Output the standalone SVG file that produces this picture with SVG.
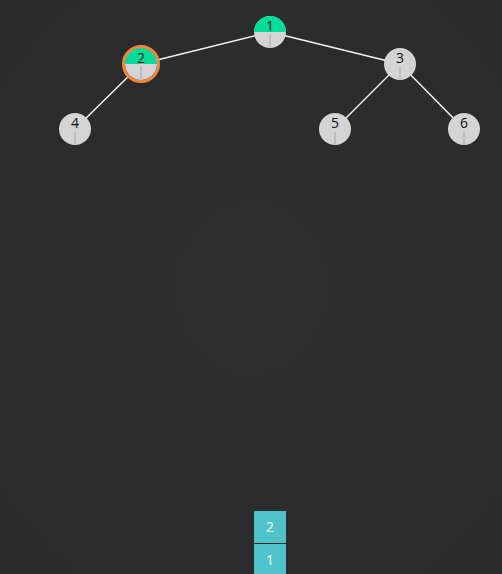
<svg xmlns="http://www.w3.org/2000/svg" width="502" height="574" viewBox="0 0 502 574">
<defs>
<radialGradient id="bg" cx="50%" cy="50%" r="70%"><stop offset="0" stop-color="#2f2f2f"/><stop offset="1" stop-color="#2a2a2a"/></radialGradient>
<clipPath id="top"><rect x="-20" y="-20" width="40" height="20"/></clipPath>
</defs>
<style>
.edge{stroke:#f2f2f2;stroke-width:1.5;fill:none}
.body{fill:#d4d4d4}
.hi{fill:#00dd99}
.div{stroke:#a8a8a8;stroke-width:1}
.lbl{font-family:"Open Sans","Liberation Sans",sans-serif;font-size:14px;fill:#111;text-anchor:middle}
.cell{fill:#4fc2ca}
.cl{font-family:"Open Sans","Liberation Sans",sans-serif;font-size:14px;fill:#fff;text-anchor:middle}
.sel{fill:none;stroke:#f0873a;stroke-width:3}
</style>
<rect width="502" height="574" fill="url(#bg)"/>
<g id="connectors">
<line class="edge" x1="270" y1="32" x2="141" y2="64"/>
<line class="edge" x1="270" y1="32" x2="400" y2="64"/>
<line class="edge" x1="141" y1="64" x2="75" y2="129"/>
<line class="edge" x1="400" y1="64" x2="335" y2="129"/>
<line class="edge" x1="400" y1="64" x2="464" y2="129"/>
</g>
<g id="node1" transform="translate(270,32)">
<circle class="body" r="16"/>
<circle class="hi" r="16" clip-path="url(#top)"/>
<line class="div" x1="0" y1="2" x2="0" y2="15"/>
<text class="lbl" y="-1">1</text>
</g>
<g id="node2" transform="translate(141,64)">
<circle class="body" r="16"/>
<circle class="hi" r="16" clip-path="url(#top)"/>
<line class="div" x1="0" y1="2" x2="0" y2="15"/>
<circle class="sel" r="17.5"/>
<text class="lbl" y="-1">2</text>
</g>
<g id="node3" transform="translate(400,64)">
<circle class="body" r="16"/>
<line class="div" x1="0" y1="3" x2="0" y2="15"/>
<text class="lbl" y="-1">3</text>
</g>
<g id="node4" transform="translate(75,129)">
<circle class="body" r="16"/>
<line class="div" x1="0" y1="3" x2="0" y2="15"/>
<text class="lbl" y="-1">4</text>
</g>
<g id="node5" transform="translate(335,129)">
<circle class="body" r="16"/>
<line class="div" x1="0" y1="3" x2="0" y2="15"/>
<text class="lbl" y="-1">5</text>
</g>
<g id="node6" transform="translate(464,129)">
<circle class="body" r="16"/>
<line class="div" x1="0" y1="3" x2="0" y2="15"/>
<text class="lbl" y="-1">6</text>
</g>
<g id="stack">
<rect class="cell" x="254" y="511" width="32" height="32"/>
<text class="cl" x="270" y="532">2</text>
<rect class="cell" x="254" y="544" width="32" height="32"/>
<text class="cl" x="270" y="565">1</text>
</g>
</svg>
